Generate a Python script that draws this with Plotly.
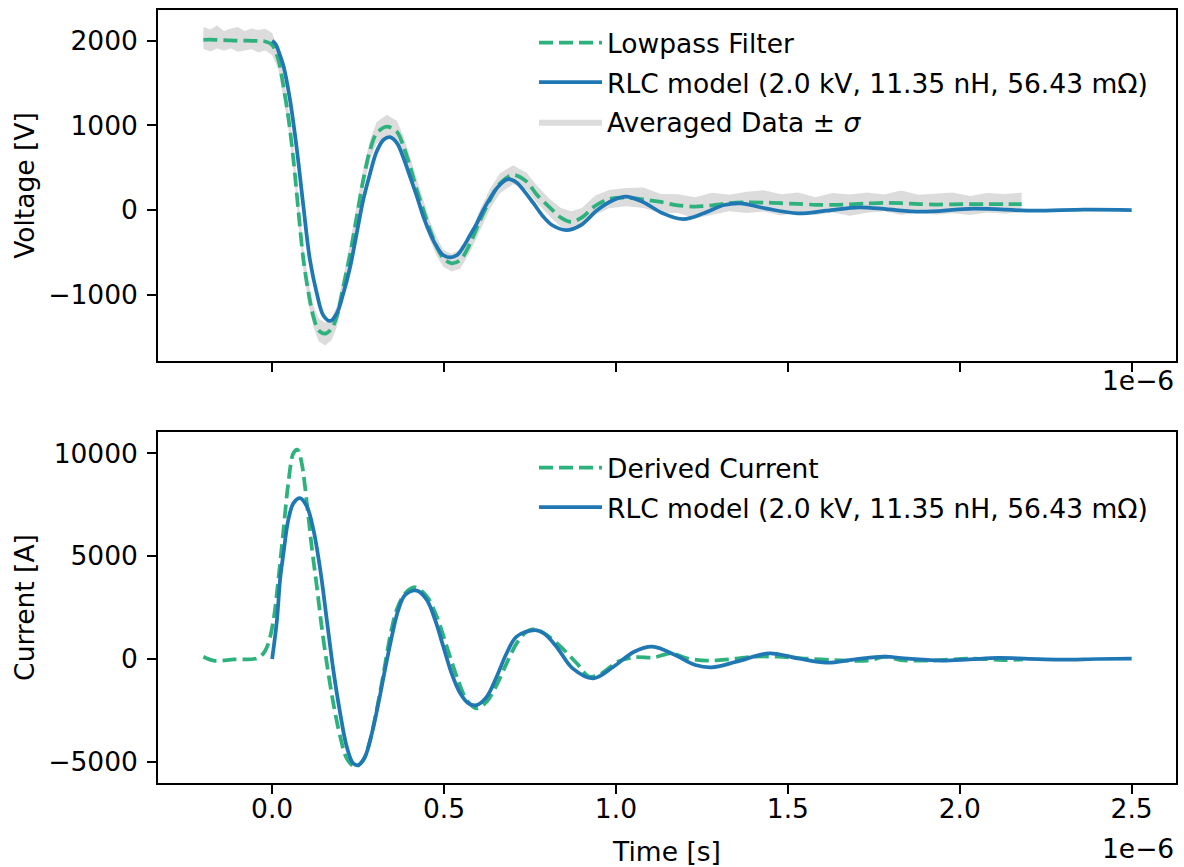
import plotly.graph_objects as go

# ---------------- data (time in units of 1e-6 s) ----------------
lowpass_t = [-0.20, -0.18, -0.16, -0.14, -0.12, -0.10, -0.08, -0.06, -0.04, -0.02,
             0.00, 0.018, 0.033, 0.047, 0.062, 0.077, 0.091, 0.106, 0.120, 0.135,
             0.154, 0.173, 0.188, 0.207, 0.227, 0.246, 0.265, 0.285, 0.304, 0.333,
             0.363, 0.382, 0.401, 0.421, 0.440, 0.459, 0.479, 0.498, 0.522, 0.547,
             0.576, 0.605, 0.634, 0.663, 0.701, 0.740, 0.770, 0.805, 0.840, 0.870,
             0.900, 0.940, 0.980, 1.030,
             1.08, 1.13, 1.18, 1.23, 1.28, 1.33, 1.38, 1.43, 1.48, 1.53, 1.58, 1.63,
             1.68, 1.73, 1.78, 1.83, 1.88, 1.93, 1.98, 2.03, 2.08, 2.13, 2.18]
lowpass_v = [2010, 2012, 2008, 2005, 2003, 2000, 2000, 1998, 1996, 1990,
             1950, 1775, 1460, 1100, 590, -40, -590, -985, -1260, -1420,
             -1460, -1400, -1260, -905, -515, -80, 355, 710, 905, 985,
             925, 750, 515, 235, 0, -235, -435, -570, -630, -590,
             -395, -120, 120, 315, 415, 335, 180, 40, -90, -140,
             -90, 50, 130, 145,
             125, 95, 55, 40, 55, 80, 90, 88, 80, 72, 62, 60,
             68, 78, 84, 80, 70, 65, 68, 70, 70, 70, 70]

# averaged data +/- sigma (read as upper / lower spread around the average)
sigma_up = [150, 120, 170, 110, 140, 160, 115, 145, 130, 150, 140,
            120, 130, 110, 140, 125, 130, 120, 135, 140, 130, 125, 120, 115, 130, 140,
            125, 120, 135, 140, 130, 125, 110, 120, 115, 105, 110, 100, 115, 120, 110,
            125, 130, 120, 115, 105, 110, 100, 115, 125, 110, 120, 105, 115,
            140, 95, 130, 110, 150, 100, 125, 145, 105, 135, 90, 140, 115, 130, 100,
            150, 110, 125, 140, 95, 130, 120, 135]
sigma_lo = [110, 140, 100, 125, 95, 130, 115, 100, 135, 105, 120,
            115, 125, 120, 110, 130, 120, 125, 115, 130, 140, 135, 125, 120, 110, 115,
            105, 110, 120, 115, 110, 105, 100, 110, 115, 120, 110, 100, 95, 105, 100,
            110, 105, 115, 110, 100, 95, 105, 110, 100, 115, 105, 110, 100,
            100, 130, 90, 140, 110, 95, 125, 105, 145, 100, 120, 90, 135, 110, 100,
            140, 95, 120, 105, 130, 100, 115, 95]

rlc_v_t = [0.0, 0.010, 0.020, 0.033, 0.052, 0.072, 0.091, 0.110, 0.130, 0.149,
           0.169, 0.188, 0.207, 0.227, 0.246, 0.265, 0.285, 0.304, 0.324, 0.343,
           0.363, 0.382, 0.401, 0.421, 0.440, 0.459, 0.479, 0.498, 0.517, 0.537,
           0.556, 0.576, 0.595, 0.614, 0.634, 0.653, 0.672, 0.687, 0.711, 0.731,
           0.760, 0.789, 0.815, 0.856, 0.898, 0.946, 0.993, 1.029, 1.077, 1.136,
           1.196, 1.255, 1.315, 1.362, 1.434, 1.529, 1.612, 1.708, 1.791, 1.886,
           2.041, 2.208, 2.362, 2.500]
rlc_v = [2000, 1960, 1860, 1700, 1300, 710, 40, -590, -985, -1245,
         -1310, -1220, -985, -670, -275, 120, 435, 690, 830, 860,
         790, 615, 395, 160, -80, -275, -435, -535, -560, -535,
         -435, -295, -160, 0, 140, 255, 335, 365, 325, 235,
         80, -80, -180, -237, -178, 0, 118, 158, 98, -39,
         -107, -39, 59, 79, 20, -39, -8, 32, 8, -20,
         16, -8, 4, 0]

derived_t = [-0.20, -0.17, -0.11, -0.045, -0.025, -0.011, 0.004, 0.018, 0.033, 0.047,
             0.062, 0.074, 0.086, 0.101, 0.115, 0.130, 0.144, 0.159, 0.178, 0.198,
             0.217, 0.241, 0.265, 0.285, 0.304, 0.324, 0.343, 0.362, 0.387, 0.416,
             0.450, 0.479, 0.508, 0.537, 0.566, 0.595, 0.624, 0.653, 0.682, 0.711,
             0.740, 0.765, 0.800, 0.839, 0.886, 0.922, 0.958, 1.005, 1.053, 1.112,
             1.160, 1.207, 1.267, 1.327, 1.398, 1.470, 1.553, 1.636, 1.731, 1.785,
             1.827, 1.910, 2.029, 2.136, 2.184]
derived_i = [110, -80, -20, 30, 280, 760, 1900, 3850, 6280, 8560,
             10020, 10180, 9530, 7580, 5470, 3520, 1580, -210, -2160, -3780,
             -4840, -5250, -4920, -3950, -2490, -700, 1090, 2390, 3200, 3490,
             3040, 2060, 600, -860, -2000, -2400, -2080, -1270, -210, 760,
             1330, 1445, 1150, 600, -210, -860, -700, -130, 80, 80,
             280, 30, -80, -20, 110, 110, 20, -50, -80, 110,
             -50, -80, 20, -50, -20]

rlc_i_t = [0.0, 0.014, 0.023, 0.033, 0.047, 0.062, 0.081, 0.101, 0.120, 0.140,
           0.159, 0.178, 0.198, 0.217, 0.236, 0.251, 0.270, 0.290, 0.309, 0.328,
           0.348, 0.367, 0.387, 0.421, 0.450, 0.474, 0.498, 0.522, 0.547, 0.571,
           0.595, 0.624, 0.653, 0.682, 0.711, 0.765, 0.790, 0.827, 0.874, 0.934,
           0.993, 1.053, 1.106, 1.172, 1.231, 1.279, 1.351, 1.446, 1.529, 1.612,
           1.696, 1.779, 1.850, 1.946, 2.029, 2.112, 2.200, 2.291, 2.400, 2.500]
rlc_i = [0, 1900, 3850, 5150, 6770, 7580, 7830, 7420, 6290, 4340,
         1900, -540, -2650, -4270, -5080, -5160, -4760, -3620, -2160, -540,
         1090, 2390, 3120, 3330, 2870, 1900, 600, -700, -1670, -2160,
         -2240, -1840, -860, 280, 1090, 1410, 1250, 600, -455, -940,
         -375, 355, 600, 195, -290, -405, -130, 275, 30, -180,
         -15, 115, 15, -80, -20, 50, 10, -30, 0, 15]

x_tickvals = [0.0, 0.5, 1.0, 1.5, 2.0, 2.5]
x_ticktext = ["0.0", "0.5", "1.0", "1.5", "2.0", "2.5"]
v_tickvals = [-1000, 0, 1000, 2000]
v_ticktext = ["\u22121000", "0", "1000", "2000"]
i_tickvals = [-5000, 0, 5000, 10000]
i_ticktext = ["\u22125000", "0", "5000", "10000"]

rlc_label = "RLC model (2.0 kV, 11.35 nH, 56.43 m\u03a9)"

# ---------------- styling ----------------
GREEN = "#2db27d"
BLUE = "#1f77b4"
GRAY = "#dcdcdc"
FONT = "DejaVu Sans"
FS = 26.5
W, H = 1184, 867
ML, MR, MT, MB = 158, 8, 10, 84
PH = H - MT - MB


def py(p):  # pixel y -> paper y
    return (H - MB - p) / PH


def px(p):  # pixel x -> paper x
    return (p - ML) / (W - ML - MR)


fig = go.Figure()

band_upper = [m + s for m, s in zip(lowpass_v, sigma_up)]
band_lower = [m - s for m, s in zip(lowpass_v, sigma_lo)]
fig.add_trace(go.Scatter(
    x=lowpass_t + lowpass_t[::-1], y=band_upper + band_lower[::-1],
    fill="toself", fillcolor=GRAY, mode="lines", line=dict(width=0, color=GRAY),
    name="Averaged Data \u00b1 <i>\u03c3</i>", legendgroup="c", legendrank=3,
    xaxis="x", yaxis="y", legend="legend"))
fig.add_trace(go.Scatter(
    x=lowpass_t, y=lowpass_v, mode="lines", name="Lowpass Filter",
    line=dict(color=GREEN, width=3.75, dash="14px,6px", shape="spline", smoothing=0.9),
    legendgroup="a", legendrank=1, xaxis="x", yaxis="y", legend="legend"))
fig.add_trace(go.Scatter(
    x=rlc_v_t, y=rlc_v, mode="lines", name=rlc_label,
    line=dict(color=BLUE, width=3.75, shape="spline", smoothing=1.0),
    legendgroup="b", legendrank=2, xaxis="x", yaxis="y", legend="legend"))

fig.add_trace(go.Scatter(
    x=derived_t, y=derived_i, mode="lines", name="Derived Current",
    line=dict(color=GREEN, width=3.75, dash="14px,6px", shape="spline", smoothing=0.9),
    legendgroup="d", legendrank=1, xaxis="x2", yaxis="y2", legend="legend2"))
fig.add_trace(go.Scatter(
    x=rlc_i_t, y=rlc_i, mode="lines", name=rlc_label,
    line=dict(color=BLUE, width=3.75, shape="spline", smoothing=1.0),
    legendgroup="e", legendrank=2, xaxis="x2", yaxis="y2", legend="legend2"))

axis_common = dict(showline=True, mirror=True, linecolor="black", linewidth=2,
                   ticks="outside", ticklen=8.75, tickwidth=2, tickcolor="black",
                   showgrid=False, zeroline=False, automargin=False,
                   tickfont=dict(family=FONT, size=FS, color="black"))
xr = [-0.332, 2.629]

fig.update_layout(
    width=W, height=H, margin=dict(l=ML, r=MR, t=MT, b=MB, autoexpand=False),
    paper_bgcolor="white", plot_bgcolor="white",
    font=dict(family=FONT, size=FS, color="black"),
    xaxis=dict(domain=[0, 1], anchor="y", range=xr, tickvals=x_tickvals,
               ticktext=x_ticktext, showticklabels=False, **axis_common),
    yaxis=dict(domain=[py(361), 1], anchor="x", range=[-1783, 2362],
               tickvals=v_tickvals, ticktext=v_ticktext, ticklabelstandoff=4,
               title=dict(text="Voltage [V]", standoff=6,
                          font=dict(family=FONT, size=FS)), **axis_common),
    xaxis2=dict(domain=[0, 1], anchor="y2", range=xr, tickvals=x_tickvals,
                ticktext=x_ticktext, ticklabelstandoff=-8,
                title=dict(text="Time [s]", standoff=20,
                           font=dict(family=FONT, size=FS)), **axis_common),
    yaxis2=dict(domain=[0, py(432)], anchor="x2", range=[-6031, 11041],
                tickvals=i_tickvals, ticktext=i_ticktext, ticklabelstandoff=4,
                title=dict(text="Current [A]", standoff=6,
                           font=dict(family=FONT, size=FS)), **axis_common),
    legend=dict(x=px(534), y=py(19), xanchor="left", yanchor="top",
                bgcolor="rgba(0,0,0,0)", borderwidth=0, itemwidth=63,
                traceorder="grouped", tracegroupgap=2,
                font=dict(family=FONT, size=FS, color="black")),
    legend2=dict(x=px(534), y=py(444), xanchor="left", yanchor="top",
                 bgcolor="rgba(0,0,0,0)", borderwidth=0, itemwidth=63,
                 traceorder="grouped", tracegroupgap=2,
                 font=dict(family=FONT, size=FS, color="black")),
    showlegend=True,
    annotations=[
        dict(text="1e\u22126", xref="paper", yref="paper", x=px(1176), y=py(381),
             xanchor="right", yanchor="middle", showarrow=False,
             font=dict(family=FONT, size=FS, color="black")),
        dict(text="1e\u22126", xref="paper", yref="paper", x=px(1176), y=py(848),
             xanchor="right", yanchor="middle", showarrow=False,
             font=dict(family=FONT, size=FS, color="black")),
    ],
)

fig.write_html("out.html", config={"displayModeBar": False},
               post_script="document.body.style.margin='0px';"
                           "document.body.style.overflow='hidden';")
